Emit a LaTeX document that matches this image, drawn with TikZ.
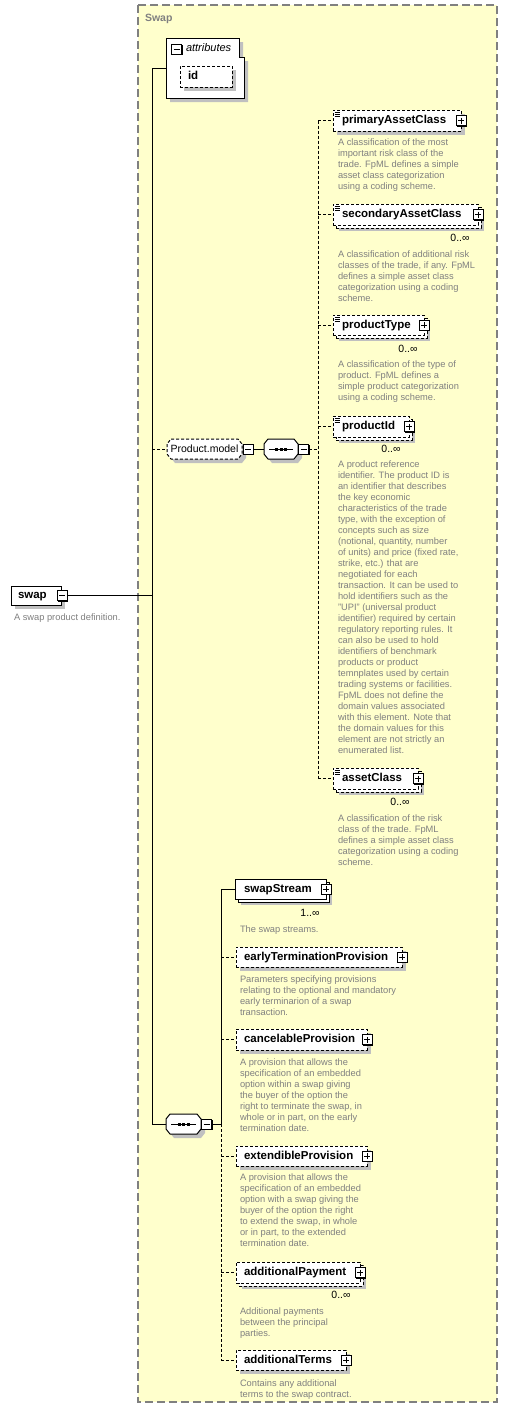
\documentclass[tikz,border=0pt]{standalone}
\usepackage{fontspec}
\setmainfont{Liberation Sans}
\usetikzlibrary{shadows}
\definecolor{grpfill}{RGB}{255,255,204}
\definecolor{shd}{RGB}{192,192,192}
\definecolor{desc}{RGB}{128,128,128}
\definecolor{grpline}{RGB}{128,128,128}
\newcommand{\nmtxt}[3][9]{\makebox[#2pt][l]{\hspace*{#1pt}#3}}
\newcommand{\octo}[2][]{%
  \fill[shd, transform canvas={shift={(4pt,-4pt)}}] ([xshift=4pt]#2.north west) -- ([xshift=-4pt]#2.north east) -- ([yshift=-5pt]#2.north east) -- ([yshift=5pt]#2.south east) -- ([xshift=-4pt]#2.south east) -- ([xshift=4pt]#2.south west) -- ([yshift=5pt]#2.south west) -- ([yshift=-5pt]#2.north west) -- cycle;
  \draw[line width=1pt, fill=white, #1] ([xshift=4pt]#2.north west) -- ([xshift=-4pt]#2.north east) -- ([yshift=-5pt]#2.north east) -- ([yshift=5pt]#2.south east) -- ([xshift=-4pt]#2.south east) -- ([xshift=4pt]#2.south west) -- ([yshift=5pt]#2.south west) -- ([yshift=-5pt]#2.north west) -- cycle;}
\newcommand{\seqdots}[1]{%
  \draw[line width=1pt] ([xshift=5pt]#1.west) -- ([xshift=-5pt]#1.east);
  \fill ([xshift=-4.5pt]#1.center) +(-1.5pt,-1.5pt) rectangle +(1.5pt,1.5pt);
  \fill (#1.center) +(-1.5pt,-1.5pt) rectangle +(1.5pt,1.5pt);
  \fill ([xshift=4.5pt]#1.center) +(-1.5pt,-1.5pt) rectangle +(1.5pt,1.5pt);}
\tikzset{
  every node/.style={inner sep=0pt, outer sep=0pt},
  shad/.style={general shadow={fill=shd, shadow xshift=4pt, shadow yshift=-4pt}},
  multishad/.style={general shadow={fill=shd, shadow xshift=6pt, shadow yshift=-6pt},
                    general shadow={draw=black, fill=white, line width=1pt, shadow xshift=3pt, shadow yshift=-3pt}},
  elbox/.style={rectangle, draw=black, fill=white, line width=1pt, anchor=north west,
                text height=8.5pt, text depth=2.5pt, font=\fontsize{11.5}{13}\selectfont\bfseries},
  holder/.style={rectangle, anchor=north west, minimum height=20pt},
  optl/.style={dash pattern=on 3pt off 2pt},
  conn/.style={line width=1pt},
  pmbox/.style={rectangle, draw=black, fill=white, line width=1pt, minimum size=10pt,
                general shadow={fill=black, shadow xshift=1pt, shadow yshift=-1pt}},
  plusbox/.style={pmbox, path picture={\draw[line width=1pt]
      ([xshift=2pt]path picture bounding box.west) -- ([xshift=-2pt]path picture bounding box.east)
      ([yshift=-2pt]path picture bounding box.north) -- ([yshift=2pt]path picture bounding box.south);}},
  minusbox/.style={pmbox, path picture={\draw[line width=1pt]
      ([xshift=2pt]path picture bounding box.west) -- ([xshift=-2pt]path picture bounding box.east);}},
  dsc/.style={anchor=north west, align=left, text=desc, font=\fontsize{9.3}{11}\selectfont},
  card/.style={font=\fontsize{10.5}{12}\selectfont},
}
\begin{document}
\begin{tikzpicture}[x=1pt, y=-1pt]
\useasboundingbox (0,0) rectangle (507,1416);
\fill[white] (0,0) rectangle (507,1416);
% group box
\fill[grpfill] (138,5) rectangle (497,1402);
\draw[grpline, line width=1.5pt, dash pattern=on 8pt off 4pt] (138,5) rectangle (497,1402);
\node[anchor=west, text=grpline, font=\fontsize{10.5}{12}\selectfont\bfseries] (grplbl) at (145,19) {Swap};

% attributes
\fill[shd] (170,42) -- (243,42) -- (243,61) -- (248,61) -- (248,102) -- (170,102) -- cycle;
\draw[line width=1pt, fill=white] (166,38) -- (239,38) -- (239,57) -- (244,57) -- (244,98) -- (166,98) -- cycle;
\coordinate (attrW) at (166,68);
\node[minusbox] (attrm) at (176.5,49) {};
\node[anchor=west, font=\fontsize{11}{13}\selectfont\itshape] (attrlbl) at (186,48) {attributes};
\node[elbox, optl, shad, minimum height=21pt] (id) at (180,66) {\nmtxt[8]{52}{id}};

% swap root
\node[elbox, shad, minimum height=19pt] (swap) at (11,586) {\nmtxt[7]{50}{swap}};
\node[minusbox] (swapm) at ([xshift=1pt]swap.east) {};
\node[dsc] (swapd) at (14,614) {A swap product definition.};

% trunk
\coordinate (trA) at (152,68);
\coordinate (trB) at (152,1124);
\draw[conn] (trA) -- (trB);
\draw[conn] (trA) -- (attrW);
\draw[conn] (swapm.east) -- (swapm.east -| trA);

% Product.model
\path node[holder, minimum width=75pt] (pm) at (167,439) {};
\octo[optl]{pm}
\node[font=\fontsize{10.5}{12}\selectfont] (pmtxt) at ([yshift=0.5pt]pm.center) {Product.model};
\node[minusbox] (pmm) at ([xshift=6pt]pm.east) {};
\draw[conn, optl] (trA |- pm.west) -- (pm.west);
\path node[holder, minimum width=34pt] (seq1) at (264,439) {};
\octo{seq1}
\seqdots{seq1}
\draw[conn] (pmm.east) -- (seq1.west);
\node[minusbox] (seq1m) at ([xshift=5.5pt]seq1.east) {};
\coordinate (v1) at (318,449);

% children of Product.model sequence
\node[elbox, optl, shad, minimum height=21pt] (pac) at (333,110) {\nmtxt{128}{primaryAssetClass}};
\node[plusbox] (pacp) at (pac.east) {};
\node[dsc] (pacd) at (338,139) {A classification of the most\\important risk class of the\\trade. FpML defines a simple\\asset class categorization\\using a coding scheme.};

\node[elbox, optl, multishad, minimum height=21pt] (sac) at (333,204) {\nmtxt{145}{secondaryAssetClass}};
\node[plusbox] (sacp) at (sac.east) {};
\node[card] (sacc) at (460,238) {0..∞};
\node[dsc] (sacd) at (338,251) {A classification of additional risk\\classes of the trade, if any. FpML\\defines a simple asset class\\categorization using a coding\\scheme.};

\node[elbox, optl, multishad, minimum height=20pt] (pt) at (333,315) {\nmtxt{91}{productType}};
\node[plusbox] (ptp) at (pt.east) {};
\node[card] (ptc) at (408,349) {0..∞};
\node[dsc] (ptd) at (338,361) {A classification of the type of\\product. FpML defines a\\simple product categorization\\using a coding scheme.};

\node[elbox, optl, multishad, minimum height=21pt] (pid) at (333,416) {\nmtxt{76}{productId}};
\node[plusbox] (pidp) at (pid.east) {};
\node[card] (pidc) at (391,449) {0..∞};
\node[dsc] (pidd) at (338,461) {A product reference\\identifier. The product ID is\\an identifier that describes\\the key economic\\characteristics of the trade\\type, with the exception of\\concepts such as size\\(notional, quantity, number\\of units) and price (fixed rate,\\strike, etc.) that are\\negotiated for each\\transaction. It can be used to\\hold identifiers such as the\\"UPI" (universal product\\identifier) required by certain\\regulatory reporting rules. It\\can also be used to hold\\identifiers of benchmark\\products or product\\temnplates used by certain\\trading systems or facilities.\\FpML does not define the\\domain values associated\\with this element. Note that\\the domain values for this\\element are not strictly an\\enumerated list.};

\node[elbox, optl, multishad, minimum height=21pt] (ac) at (333,768) {\nmtxt{85}{assetClass}};
\node[plusbox] (acp) at (ac.east) {};
\node[card] (acc) at (400,802) {0..∞};
\node[dsc] (acd) at (338,815) {A classification of the risk\\class of the trade. FpML\\defines a simple asset class\\categorization using a coding\\scheme.};

\foreach \n in {pac,sac,pt,pid,ac}{
  \foreach \k in {2,4,6}{
    \draw[line width=0.8pt] ([xshift=1.5pt,yshift=-\k pt]\n.north west) -- ++(5pt,0pt);
  }
}

\draw[conn, optl] (seq1m.east) -- (v1);
\draw[conn, optl] (v1 |- pac.west) -- (v1 |- ac.west);
\foreach \n in {pac,sac,pt,pid,ac}{
  \draw[conn, optl] (v1 |- \n.west) -- (\n.west);
}

% bottom sequence
\path node[holder, minimum width=35pt] (seq2) at (166,1114) {};
\octo{seq2}
\seqdots{seq2}
\node[minusbox] (seq2m) at ([xshift=5.5pt]seq2.east) {};
\draw[conn] (trB) -- (seq2.west);
\coordinate (v2) at (221,1124);

\node[elbox, multishad, minimum height=20pt] (ss) at (235,879) {\nmtxt{91}{swapStream}};
\node[plusbox] (ssp) at (ss.east) {};
\node[card] (ssc) at (310,913) {1..∞};
\node[dsc] (ssd) at (240,926) {The swap streams.};

\node[elbox, optl, shad, minimum height=20pt] (etp) at (236,947) {\nmtxt[8]{166}{earlyTerminationProvision}};
\node[plusbox] (etpp) at (etp.east) {};
\node[dsc] (etpd) at (240,976) {Parameters specifying provisions\\relating to the optional and mandatory\\early terminarion of a swap\\transaction.};

\node[elbox, optl, shad, minimum height=21pt] (cp) at (236,1029) {\nmtxt[8]{131}{cancelableProvision}};
\node[plusbox] (cpp) at (cp.east) {};
\node[dsc] (cpd) at (240,1059) {A provision that allows the\\specification of an embedded\\option within a swap giving\\the buyer of the option the\\right to terminate the swap, in\\whole or in part, on the early\\termination date.};

\node[elbox, optl, shad, minimum height=20pt] (ep) at (236,1146) {\nmtxt[8]{131}{extendibleProvision}};
\node[plusbox] (epp) at (ep.east) {};
\node[dsc] (epd) at (240,1174) {A provision that allows the\\specification of an embedded\\option with a swap giving the\\buyer of the option the right\\to extend the swap, in whole\\or in part, to the extended\\termination date.};

\node[elbox, optl, multishad, minimum height=21pt] (ap) at (236,1262) {\nmtxt[8]{124}{additionalPayment}};
\node[plusbox] (app) at (ap.east) {};
\node[card] (apc) at (341,1295) {0..∞};
\node[dsc] (apd) at (240,1308) {Additional payments\\between the principal\\parties.};

\node[elbox, optl, shad, minimum height=20pt] (at) at (236,1350) {\nmtxt[8]{110}{additionalTerms}};
\node[plusbox] (atp) at (at.east) {};
\node[dsc] (atd) at (240,1380) {Contains any additional\\terms to the swap contract.};

\draw[conn] (seq2m.east) -- (v2);
\draw[conn] (v2) -- (v2 |- ss.west) -- (ss.west);
\draw[conn, optl] (v2) -- (v2 |- at.west);
\foreach \n in {etp,cp,ep,ap,at}{
  \draw[conn, optl] (v2 |- \n.west) -- (\n.west);
}
\end{tikzpicture}
\end{document}
